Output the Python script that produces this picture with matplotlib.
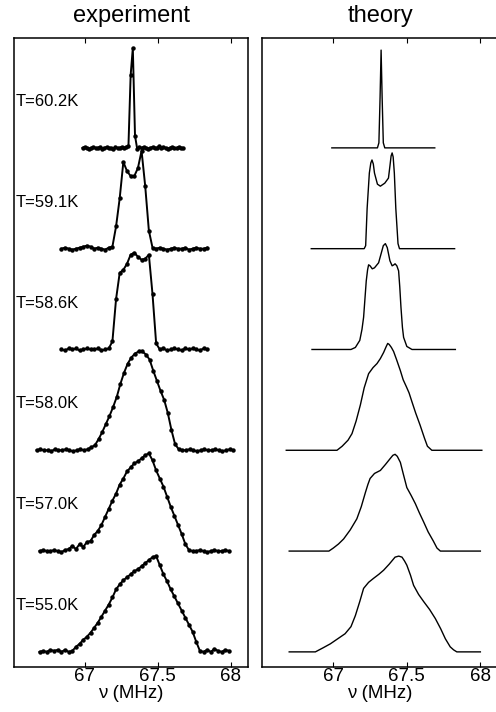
import matplotlib
matplotlib.use("Agg")
import matplotlib.pyplot as plt
import numpy as np

plt.rcParams['font.family'] = ['Liberation Sans', 'DejaVu Sans']

# temperature labels, top to bottom, and the vertical offset of each trace
temps = ["T=60.2K", "T=59.1K", "T=58.6K", "T=58.0K", "T=57.0K", "T=55.0K"]
offsets = [5, 4, 3, 2, 1, 0]

# experimental spectra: first frequency (MHz), frequency step (MHz), normalised intensity
exp_start = [66.985, 66.84, 66.84, 66.67, 66.69, 66.69]
exp_step = [0.015, 0.025, 0.025, 0.025, 0.025, 0.025]

exp_602 = [0.0, 0.01, 0.0, -0.01, 0.0, 0.01, 0.0, 0.0, 0.01, -0.01, 0.0, 0.01, 0.0, 0.0,
           -0.01, 0.01, 0.0, 0.0, 0.01, 0.0, 0.01,
           0.02, 0.72, 0.99, 0.12, -0.01, 0.01,
           0.0, 0.01, 0.0, -0.01, 0.0, 0.01, 0.0, 0.0, 0.02, 0.0, 0.01, 0.0, -0.01, 0.0,
           0.01, 0.0, 0.0, 0.01, 0.0, 0.0]
exp_591 = [0.0, 0.01, 0.0, -0.01, 0.0, 0.01, 0.02, 0.03, 0.02, 0.0, 0.01, 0.0, -0.01, 0.01,
           0.02, 0.22, 0.50, 0.86, 0.77, 0.72, 0.72, 0.80, 0.97, 0.62, 0.18, 0.01,
           0.0, 0.01, 0.0, -0.01, 0.0, 0.01, 0.0, 0.0, 0.01, -0.01, 0.0, 0.01, 0.0, 0.0, 0.01]
exp_586 = [0.0, -0.01, 0.01, 0.0, 0.01, -0.01, 0.0, 0.01, 0.0, 0.0, 0.01, -0.01, 0.0, 0.01,
           0.08, 0.50, 0.76, 0.79, 0.85, 0.94, 0.96, 0.92, 0.89, 0.90, 0.94, 0.55, 0.06,
           0.0, 0.01, -0.01, 0.0, 0.01, 0.0, -0.01, 0.01, 0.0, 0.01, 0.0, -0.01, 0.01, 0.0]
exp_580 = [0.0, 0.01, 0.0, 0.0, -0.01, 0.01, 0.0, 0.0, 0.01, 0.0, -0.01, 0.0, 0.01, 0.0,
           0.01, 0.03, 0.05, 0.11, 0.18, 0.26, 0.34, 0.43, 0.53, 0.66, 0.77, 0.86, 0.92,
           0.96, 0.98, 0.98, 0.95, 0.90, 0.79, 0.69, 0.59, 0.50, 0.37, 0.20, 0.06, 0.01,
           0.0, 0.0, 0.01, 0.0, -0.01, 0.0, 0.01, 0.0, 0.0, 0.01, 0.0, -0.01, 0.0, 0.01, 0.0]
exp_570 = [0.0, 0.01, 0.0, 0.0, 0.01, 0.0, -0.01, 0.01,
           0.02, 0.05, 0.02, 0.07, 0.04, 0.09, 0.10, 0.16, 0.20, 0.26, 0.34, 0.42, 0.50,
           0.57, 0.66, 0.72, 0.79, 0.83, 0.87, 0.89, 0.92, 0.95, 0.97, 0.90, 0.80, 0.72,
           0.64, 0.54, 0.44, 0.35, 0.26, 0.17, 0.07, 0.01,
           0.0, 0.0, 0.01, 0.0, -0.01, 0.0, 0.01, 0.0, 0.0, 0.01, 0.0]
exp_550 = [0.0, 0.01, 0.0, 0.02, 0.01, 0.02, 0.0, 0.02,
           0.0, 0.01, 0.05, 0.08, 0.12, 0.15, 0.19, 0.24, 0.29, 0.35, 0.41, 0.47, 0.54,
           0.62, 0.67, 0.71, 0.74, 0.77, 0.80, 0.82, 0.85, 0.88, 0.91, 0.94, 0.95, 0.86,
           0.77, 0.70, 0.62, 0.55, 0.48, 0.41, 0.34, 0.27, 0.20, 0.10, 0.01,
           0.0, 0.02, 0.0, 0.03, 0.01, 0.0, 0.02, 0.01]
exp_values = [exp_602, exp_591, exp_586, exp_580, exp_570, exp_550]

# theoretical line shapes: frequency (MHz) and normalised intensity
th_602_x = [66.99, 67.30, 67.31, 67.318, 67.325, 67.332, 67.34, 67.35, 67.69]
th_602_y = [0, 0, 0.05, 0.5, 0.97, 0.5, 0.05, 0, 0]
th_591_x = [66.85, 67.21, 67.22, 67.23, 67.245, 67.255, 67.263, 67.272, 67.28, 67.30, 67.32,
            67.35, 67.375, 67.385, 67.393, 67.40, 67.407, 67.415, 67.425, 67.44, 67.45, 67.825]
th_591_y = [0, 0, 0.03, 0.4, 0.75, 0.85, 0.88, 0.84, 0.75, 0.64, 0.62,
            0.65, 0.70, 0.82, 0.92, 0.95, 0.91, 0.75, 0.4, 0.05, 0, 0]
th_586_x = [66.855, 67.12, 67.15, 67.18, 67.195, 67.206, 67.215, 67.224, 67.233, 67.24, 67.25,
            67.265, 67.28, 67.308, 67.325, 67.34, 67.354, 67.367, 67.385, 67.40, 67.412, 67.42,
            67.432, 67.444, 67.452, 67.46, 67.47, 67.478, 67.50, 67.535, 67.83]
th_586_y = [0, 0, 0.02, 0.09, 0.2, 0.32, 0.5, 0.68, 0.79, 0.84, 0.83,
            0.80, 0.81, 0.86, 0.95, 1.03, 1.05, 1.01, 0.88, 0.83, 0.84, 0.85,
            0.83, 0.78, 0.62, 0.42, 0.22, 0.12, 0.03, 0.0, 0.0]
th_580_x = [66.68, 67.025, 67.06, 67.10, 67.127, 67.155, 67.184, 67.21, 67.24, 67.27, 67.297,
            67.32, 67.342, 67.36, 67.37, 67.38, 67.395, 67.41, 67.43, 67.456, 67.475, 67.497,
            67.515, 67.535, 67.56, 67.59, 67.62, 67.64, 67.67, 68.01]
th_580_y = [0, 0, 0.04, 0.10, 0.165, 0.29, 0.45, 0.62, 0.76, 0.82, 0.86,
            0.91, 0.97, 1.03, 1.06, 1.05, 1.02, 0.98, 0.90, 0.79, 0.70, 0.63,
            0.57, 0.48, 0.37, 0.25, 0.12, 0.04, 0, 0]
th_570_x = [66.70, 66.97, 67.00, 67.035, 67.07, 67.115, 67.16, 67.19, 67.218, 67.235, 67.25,
            67.28, 67.32, 67.355, 67.388, 67.405, 67.42, 67.435, 67.456, 67.475, 67.50, 67.53,
            67.558, 67.585, 67.614, 67.645, 67.68, 67.705, 67.728, 68.0]
th_570_y = [0, 0, 0.03, 0.07, 0.12, 0.21, 0.32, 0.44, 0.58, 0.66, 0.72,
            0.77, 0.80, 0.86, 0.92, 0.95, 0.96, 0.94, 0.88, 0.77, 0.63, 0.55,
            0.47, 0.38, 0.29, 0.19, 0.10, 0.03, 0, 0]
th_550_x = [66.70, 66.878, 66.93, 66.98, 67.03, 67.08, 67.12, 67.15, 67.18, 67.206, 67.24,
            67.274, 67.31, 67.342, 67.38, 67.42, 67.445, 67.467, 67.485, 67.50, 67.525, 67.546,
            67.58, 67.614, 67.655, 67.694, 67.73, 67.762, 67.795, 67.818, 67.84, 68.0]
th_550_y = [0, 0, 0.04, 0.08, 0.13, 0.18, 0.25, 0.36, 0.50, 0.63, 0.69,
            0.73, 0.77, 0.81, 0.87, 0.94, 0.95, 0.94, 0.90, 0.86, 0.76, 0.66,
            0.57, 0.50, 0.42, 0.33, 0.23, 0.13, 0.05, 0.02, 0, 0]
th_x = [th_602_x, th_591_x, th_586_x, th_580_x, th_570_x, th_550_x]
th_y = [th_602_y, th_591_y, th_586_y, th_580_y, th_570_y, th_550_y]

xticks = [67, 67.5, 68]
xticklabels = ["67", "67.5", "68"]

W, H = 496, 712
fig = plt.figure(figsize=(W / 100, H / 100), dpi=100)
ax_exp = fig.add_axes([14 / W, 1 - 667 / H, 234 / W, 629 / H])
ax_th = fig.add_axes([262 / W, 1 - 667 / H, 236 / W, 629 / H])

for i in range(6):
    x = exp_start[i] + exp_step[i] * np.arange(len(exp_values[i]))
    ax_exp.plot(x, np.array(exp_values[i]) + offsets[i], color="black", lw=1.4,
                marker="o", ms=2.2, mec="black", mfc="black")
    ax_exp.text(0.008, offsets[i] + 0.46, temps[i], transform=ax_exp.get_yaxis_transform(),
                fontsize=12, va="center", ha="left")
    ax_th.plot(th_x[i], np.array(th_y[i]) + offsets[i], color="black", lw=1.0)

for ax in (ax_exp, ax_th):
    ax.set_xlim(66.515, 68.12)
    ax.set_ylim(-0.15, 6.09)
    ax.set_yticks([])
    ax.set_xticks(xticks)
    ax.set_xticklabels(xticklabels)
    ax.tick_params(axis="x", direction="in", top=True, length=3.5, width=0.8,
                   labelsize=13.5, pad=1)
    ax.set_xlabel("ν (MHz)", fontsize=13.5, labelpad=0)
    for sp in ax.spines.values():
        sp.set_linewidth(1.1)

fig.text(131 / W, 1 - 16 / H, "experiment", fontsize=17, ha="center", va="center")
fig.text(380 / W, 1 - 16 / H, "theory", fontsize=17, ha="center", va="center")

fig.savefig("out.png", dpi=100)
plt.close(fig)
